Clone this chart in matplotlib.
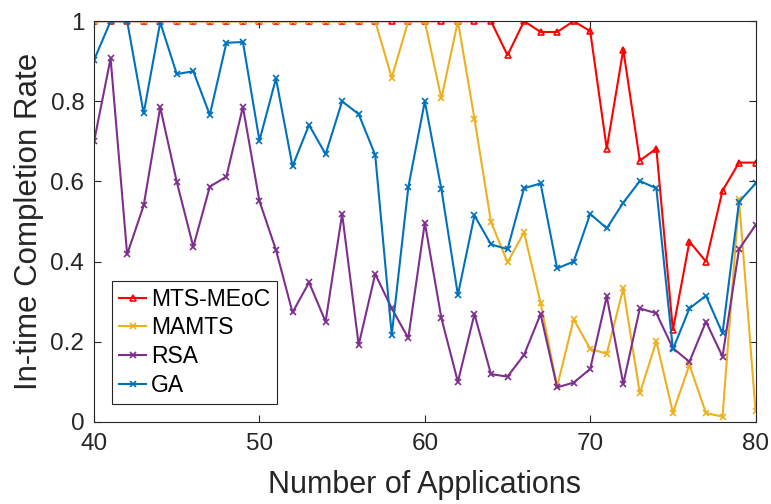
import numpy as np
import matplotlib.pyplot as plt

plt.rcParams['font.family'] = ['Liberation Sans', 'DejaVu Sans']

apps = np.arange(40, 81)

mts_meoc = [1.0] * 25 + [0.915, 1.0, 0.973, 0.973, 1.0, 0.975, 0.682, 0.929, 0.652, 0.682,
                         0.229, 0.45, 0.40, 0.577, 0.647, 0.647]

mamts = [1.0] * 17 + [1.0, 0.859, 1.0, 1.0, 0.807, 1.0, 0.757, 0.499, 0.398, 0.473, 0.297,
                      0.088, 0.256, 0.182, 0.17, 0.333, 0.071, 0.201, 0.023, 0.142, 0.022,
                      0.013, 0.555, 0.026]

rsa = [0.70, 0.907, 0.418, 0.540, 0.785, 0.599, 0.437, 0.587, 0.612, 0.786,
       0.551, 0.429, 0.273, 0.348, 0.25, 0.519, 0.192, 0.369, 0.283, 0.209,
       0.497, 0.259, 0.10, 0.269, 0.119, 0.113, 0.167, 0.269, 0.086, 0.098,
       0.132, 0.313, 0.095, 0.283, 0.271, 0.184, 0.15, 0.25, 0.163, 0.431, 0.491]

ga = [0.903, 1.0, 1.0, 0.77, 0.997, 0.868, 0.875, 0.766, 0.946, 0.948,
      0.702, 0.857, 0.638, 0.741, 0.668, 0.80, 0.768, 0.666, 0.217, 0.585,
      0.80, 0.581, 0.317, 0.515, 0.443, 0.431, 0.583, 0.595, 0.383, 0.40,
      0.519, 0.483, 0.547, 0.601, 0.583, 0.181, 0.283, 0.315, 0.221, 0.549, 0.595]

fig = plt.figure(figsize=(7.71, 5.04), dpi=100)
ax = fig.add_axes([0.122, 0.163, 0.858, 0.795])

ax.plot(apps, mts_meoc, color='#FF0000', lw=1.5, marker='^', ms=5, mew=1.2,
        mfc='none', label='MTS-MEoC')
ax.plot(apps, mamts, color='#EDB120', lw=1.5, marker='x', ms=4, mew=1.2, label='MAMTS')
ax.plot(apps, rsa, color='#7E2F8E', lw=1.5, marker='x', ms=4, mew=1.2, label='RSA')
ax.plot(apps, ga, color='#0072BD', lw=1.5, marker='x', ms=4, mew=1.2, label='GA')

ax.set_xlim(40, 80)
ax.set_ylim(0, 1)
ax.set_xticks([40, 50, 60, 70, 80])
ax.set_yticks([0, 0.2, 0.4, 0.6, 0.8, 1])
ax.set_yticklabels(['0', '0.2', '0.4', '0.6', '0.8', '1'])
ax.tick_params(direction='in', length=5, width=0.8, labelsize=17.5, colors='#262626',
               top=True, right=True)
ax.tick_params(axis='x', pad=8)
ax.tick_params(axis='y', pad=7)
for s in ax.spines.values():
    s.set_color('#262626')
    s.set_linewidth(0.8)

ax.set_xlabel('Number of Applications', fontsize=22, color='#262626', labelpad=11)
ax.set_ylabel('In-time Completion Rate', fontsize=22.5, color='#262626', labelpad=5)

leg = ax.legend(loc='lower left', bbox_to_anchor=(0.027, 0.045), borderaxespad=0,
                fontsize=16.5, handlelength=1.2, handletextpad=0.2, labelspacing=0.25,
                borderpad=0.3, fancybox=False, framealpha=1)
leg.get_frame().set_edgecolor('#262626')
leg.get_frame().set_linewidth(0.8)

fig.savefig('out.png', dpi=100)
